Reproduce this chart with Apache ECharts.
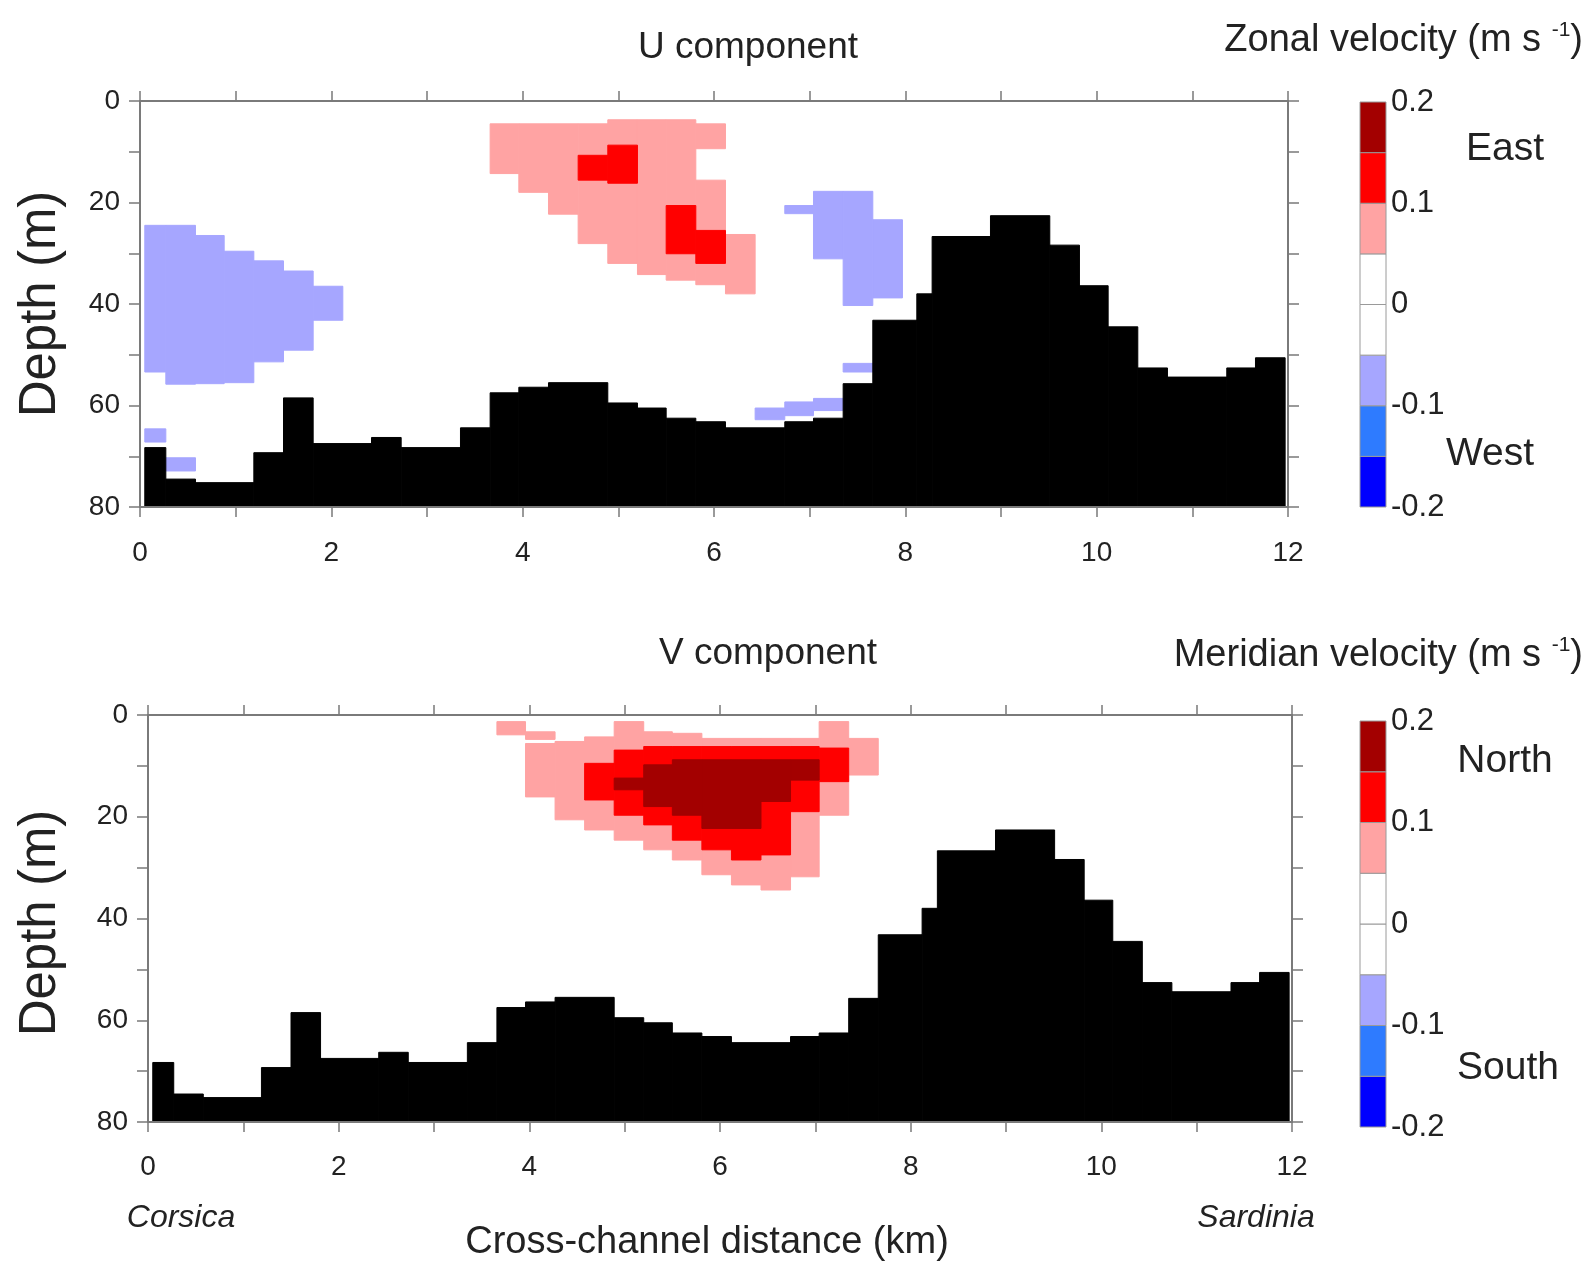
<!DOCTYPE html>
<html>
<head>
<meta charset="utf-8">
<script src="https://cdn.jsdelivr.net/npm/echarts@6/dist/echarts.min.js"></script>
<style>
  html, body { margin: 0; padding: 0; background: #fff; }
  #chart { width: 1591px; height: 1267px; }
</style>
</head>
<body>
<div id="chart"></div>
<script>
// velocity classes (m s-1) and their colours, bottom to top of the colour bar
const classBounds = [-0.2, -0.15, -0.1, -0.05, 0, 0.05, 0.1, 0.15, 0.2];
const classColors = ["#0000ff", "#2e7bff", "#a6a6ff", "#ffffff", "#ffffff", "#ffa3a3", "#ff0000", "#a30000"];

// sea bed: [from km, to km, depth m], same section for U and V
const bathymetry = [
  [0.05, 0.27, 68.3], [0.27, 0.58, 74.5], [0.58, 1.19, 75.2], [1.19, 1.50, 69.3],
  [1.50, 1.81, 58.5], [1.81, 2.42, 67.5], [2.42, 2.73, 66.3], [2.73, 3.35, 68.3],
  [3.35, 3.66, 64.4], [3.66, 3.96, 57.5], [3.96, 4.27, 56.4], [4.27, 4.89, 55.5],
  [4.89, 5.20, 59.5], [5.20, 5.50, 60.5], [5.50, 5.81, 62.5], [5.81, 6.12, 63.2],
  [6.12, 6.74, 64.4], [6.74, 7.04, 63.2], [7.04, 7.35, 62.5], [7.35, 7.66, 55.7],
  [7.66, 8.12, 43.2], [8.12, 8.28, 38.0], [8.28, 8.89, 26.7], [8.89, 9.51, 22.6],
  [9.51, 9.82, 28.4], [9.82, 10.12, 36.4], [10.12, 10.43, 44.5], [10.43, 10.74, 52.6],
  [10.74, 11.36, 54.4], [11.36, 11.66, 52.6], [11.66, 11.97, 50.6]
];

// U component cells: [from km, to km, top m, bottom m, velocity]
const uCells = [
  [0.05, 0.27, 24.5, 53.4, -0.075], [0.27, 0.58, 24.5, 55.8, -0.075],
  [0.58, 0.88, 26.5, 55.7, -0.075], [0.88, 1.19, 29.6, 55.5, -0.075],
  [1.19, 1.50, 31.5, 51.4, -0.075], [1.50, 1.81, 33.5, 49.1, -0.075],
  [1.81, 2.12, 36.5, 43.2, -0.075],
  [0.05, 0.27, 64.6, 67.2, -0.075], [0.27, 0.58, 70.3, 72.9, -0.075],
  [3.66, 3.96, 4.5, 14.3, 0.075], [3.96, 4.27, 4.5, 18.0, 0.075],
  [4.27, 4.58, 4.5, 22.3, 0.075], [4.58, 4.89, 4.5, 28.1, 0.075],
  [4.89, 5.20, 3.7, 32.0, 0.075], [5.20, 5.50, 3.7, 34.2, 0.075],
  [5.50, 5.81, 3.7, 35.3, 0.075], [5.81, 6.12, 4.5, 9.4, 0.075],
  [5.81, 6.12, 15.6, 36.2, 0.075], [6.12, 6.43, 26.3, 38.0, 0.075],
  [4.58, 4.89, 10.7, 15.6, 0.125], [4.89, 5.20, 8.7, 16.2, 0.125],
  [5.50, 5.81, 20.6, 30.1, 0.125], [5.81, 6.12, 25.5, 32.0, 0.125],
  [6.74, 7.04, 20.6, 22.2, -0.075], [7.04, 7.35, 17.8, 31.1, -0.075],
  [7.35, 7.66, 17.8, 40.3, -0.075], [7.66, 7.97, 23.4, 38.8, -0.075],
  [7.35, 7.66, 51.7, 53.4, -0.075],
  [6.43, 6.74, 60.5, 62.8, -0.075], [6.74, 7.04, 59.3, 62.0, -0.075],
  [7.04, 7.35, 58.6, 61.0, -0.075]
];

// V component cells
const vCells = [
  [3.66, 3.96, 1.3, 3.9, 0.075], [3.96, 4.27, 3.3, 4.8, 0.075],
  [3.96, 4.27, 5.6, 16.1, 0.075], [4.27, 4.58, 5.2, 20.6, 0.075],
  [4.58, 4.89, 4.3, 22.6, 0.075], [4.89, 5.20, 1.3, 24.6, 0.075],
  [5.20, 5.50, 3.3, 26.5, 0.075], [5.50, 5.81, 3.6, 28.5, 0.075],
  [5.81, 6.12, 4.6, 31.4, 0.075], [6.12, 6.43, 4.6, 33.4, 0.075],
  [6.43, 6.74, 4.6, 34.4, 0.075], [6.74, 7.04, 4.6, 31.8, 0.075],
  [7.04, 7.35, 1.3, 19.7, 0.075], [7.35, 7.66, 4.6, 11.8, 0.075],
  [4.58, 4.89, 9.5, 16.7, 0.125], [4.89, 5.20, 6.9, 19.7, 0.125],
  [5.20, 5.50, 6.2, 21.6, 0.125], [5.50, 5.81, 6.2, 24.6, 0.125],
  [5.81, 6.12, 6.2, 26.5, 0.125], [6.12, 6.43, 6.2, 28.5, 0.125],
  [6.43, 6.74, 6.2, 27.5, 0.125], [6.74, 7.04, 6.2, 19.0, 0.125],
  [7.04, 7.35, 6.5, 13.1, 0.125],
  [4.89, 5.20, 12.4, 14.7, 0.175], [5.20, 5.50, 9.8, 18.0, 0.175],
  [5.50, 5.81, 8.8, 19.7, 0.175], [5.81, 6.12, 8.8, 22.3, 0.175],
  [6.12, 6.43, 8.8, 22.3, 0.175], [6.43, 6.74, 8.8, 17.0, 0.175],
  [6.74, 7.04, 8.8, 12.8, 0.175]
];

const DEPTH_MAX = 80;
const FONT = "'Liberation Sans', Arial, sans-serif";
const axisColor = "#7a7a7a";

function classColor(v) {
  for (let i = 0; i < classColors.length; i++) {
    if (v >= classBounds[i] && v < classBounds[i + 1]) return classColors[i];
  }
  return "#fff";
}

function cellItem(params, api) {
  const a = api.coord([api.value(0), api.value(2)]);
  const b = api.coord([api.value(1), api.value(3)]);
  const c = classColor(api.value(4));
  return {
    type: "rect",
    shape: { x: a[0], y: a[1], width: b[0] - a[0], height: b[1] - a[1] },
    style: { fill: c, stroke: c, lineWidth: 1 },
  };
}

function bedItem(params, api) {
  const a = api.coord([api.value(0), api.value(2)]);
  const b = api.coord([api.value(1), DEPTH_MAX]);
  return {
    type: "rect",
    shape: { x: a[0], y: a[1], width: b[0] - a[0], height: b[1] - a[1] },
    style: { fill: "#000", stroke: "#000", lineWidth: 1 },
  };
}

const barData = classColors.map((c, i) => [classBounds[i], classBounds[i + 1]]);

function barItem(params, api) {
  const lo = api.value(0), hi = api.value(1);
  const a = api.coord([0, hi]);
  const b = api.coord([1, lo]);
  return {
    type: "rect",
    shape: { x: a[0], y: a[1], width: b[0] - a[0], height: b[1] - a[1] },
    style: { fill: classColor((lo + hi) / 2), stroke: "#9a9a9a", lineWidth: 1 },
  };
}

function xAxes(g, margin) {
  const line = { onZero: false, lineStyle: { color: axisColor, width: 2 } };
  const tick = { length: 10, lineStyle: { color: axisColor, width: 1.5 } };
  return [
    {
      gridIndex: g, type: "value", min: 0, max: 12, interval: 1, position: "bottom", z: 10,
      axisLine: line, axisTick: tick, splitLine: { show: false },
      axisLabel: {
        margin, fontSize: 28, color: "#222", fontFamily: FONT,
        formatter: (v) => (v % 2 === 0 ? String(v) : ""),
      },
    },
    {
      gridIndex: g, type: "value", min: 0, max: 12, interval: 1, position: "top", z: 10,
      axisLine: line, axisTick: tick, splitLine: { show: false }, axisLabel: { show: false },
    },
  ];
}

function yAxes(g) {
  const line = { onZero: false, lineStyle: { color: axisColor, width: 2 } };
  const tick = { length: 11, lineStyle: { color: axisColor, width: 1.5 } };
  return [
    {
      gridIndex: g, type: "value", inverse: true, min: 0, max: DEPTH_MAX, interval: 10,
      position: "left", z: 10, axisLine: line, axisTick: tick, splitLine: { show: false },
      axisLabel: {
        margin: 20, fontSize: 28, color: "#222", fontFamily: FONT,
        formatter: (v) => (v % 20 === 0 ? String(v) : ""),
      },
    },
    {
      gridIndex: g, type: "value", inverse: true, min: 0, max: DEPTH_MAX, interval: 10,
      position: "right", z: 10, axisLine: line, axisTick: tick, splitLine: { show: false },
      axisLabel: { show: false },
    },
  ];
}

function barAxes(g) {
  return {
    x: {
      gridIndex: g, type: "value", min: 0, max: 1, show: false,
    },
    y: {
      gridIndex: g, type: "value", min: -0.2, max: 0.2, interval: 0.1, position: "right",
      axisLine: { show: false }, axisTick: { show: false }, splitLine: { show: false },
      axisLabel: {
        margin: 5, fontSize: 31, color: "#222", fontFamily: FONT,
        formatter: (v) => String(Math.round(v * 10) / 10),
      },
    },
  };
}

function label(text, x, y, size, extra) {
  return {
    type: "text", x, y, z: 20,
    style: Object.assign({
      text, fill: "#222", font: size + "px " + FONT,
      align: "center", verticalAlign: "middle",
      textAlign: "center", textVerticalAlign: "middle",
    }, extra || {}),
  };
}

function unitTitle(name, x, y) {
  return {
    type: "text", x, y, z: 20,
    style: {
      text: "{a|" + name + " (m s }{b|-1}{a|)}",
      align: "right", verticalAlign: "middle",
      textAlign: "right", textVerticalAlign: "middle",
      rich: {
        a: { fontSize: 38, fontFamily: FONT, fill: "#222", color: "#222", lineHeight: 42 },
        b: { fontSize: 21, fontFamily: FONT, fill: "#222", color: "#222", verticalAlign: "top", lineHeight: 34 },
      },
    },
  };
}

const cbTop = barAxes(2);
const cbBot = barAxes(3);
const xa = xAxes(0, 32).concat(xAxes(1, 31), [cbTop.x, cbBot.x]);
const ya = yAxes(0).concat(yAxes(1), [cbTop.y, cbBot.y]);

const chart = echarts.init(document.getElementById("chart"), null, { renderer: "canvas" });

chart.setOption({
  backgroundColor: "#ffffff",
  animation: false,
  grid: [
    { left: 140, top: 101, width: 1148, height: 406 },
    { left: 148, top: 715, width: 1144, height: 407 },
    { left: 1360, top: 102, width: 26, height: 405 },
    { left: 1360, top: 721, width: 26, height: 406 },
  ],
  xAxis: xa,
  yAxis: ya,
  series: [
    { type: "custom", xAxisIndex: 0, yAxisIndex: 0, renderItem: cellItem, data: uCells, encode: { x: [0, 1], y: [2, 3] }, clip: true },
    { type: "custom", xAxisIndex: 0, yAxisIndex: 0, renderItem: bedItem, data: bathymetry, encode: { x: [0, 1], y: 2 }, clip: true },
    { type: "custom", xAxisIndex: 2, yAxisIndex: 2, renderItem: cellItem, data: vCells, encode: { x: [0, 1], y: [2, 3] }, clip: true },
    { type: "custom", xAxisIndex: 2, yAxisIndex: 2, renderItem: bedItem, data: bathymetry, encode: { x: [0, 1], y: 2 }, clip: true },
    { type: "custom", xAxisIndex: 4, yAxisIndex: 4, renderItem: barItem, data: barData, encode: { y: [0, 1] } },
    { type: "custom", xAxisIndex: 5, yAxisIndex: 5, renderItem: barItem, data: barData, encode: { y: [0, 1] } },
  ],
  graphic: [
    label("U component", 748, 48, 37),
    label("V component", 768, 654, 37),
    unitTitle("Zonal velocity", 1583, 41),
    unitTitle("Meridian velocity", 1583, 656),
    Object.assign(label("Depth (m)", 41, 304, 51), { rotation: Math.PI / 2 }),
    Object.assign(label("Depth (m)", 41, 923, 51), { rotation: Math.PI / 2 }),
    label("East", 1505, 149, 39),
    label("West", 1490, 454, 39),
    label("North", 1505, 761, 39),
    label("South", 1508, 1068, 39),
    label("Corsica", 181, 1218, 32, { font: "italic 32px " + FONT }),
    label("Sardinia", 1256, 1218, 32, { font: "italic 32px " + FONT }),
    label("Cross-channel distance (km)", 707, 1243, 38),
  ],
});
</script>
</body>
</html>
